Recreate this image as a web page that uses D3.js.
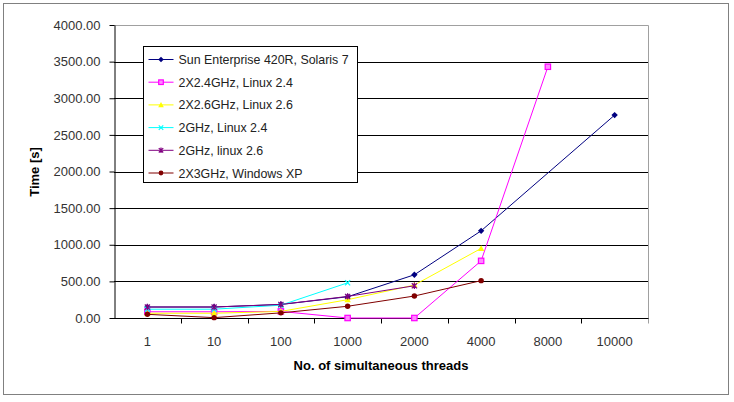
<!DOCTYPE html>
<html>
<head>
<meta charset="utf-8">
<script src="https://cdn.jsdelivr.net/npm/d3@7"></script>
<style>
  body { margin: 0; background: #fff; }
  text { font-family: "Liberation Sans", Arial, sans-serif; }
</style>
</head>
<body>
<svg id="chart" width="734" height="402"></svg>
<script>
// categories on the x axis
const threads = ["1", "10", "100", "1000", "2000", "4000", "8000", "10000"];
const yTicks = [0, 500, 1000, 1500, 2000, 2500, 3000, 3500, 4000];

// series values (null = no measurement)
const sunSolaris  = [150, 150, 185, 290, 590, 1190, null, 2770];
const ghz24Linux24 = [85, 85, 90, 0, 0, 780, 3430, null];
const ghz26Linux26 = [65, 65, 90, 250, 450, 950, null, null];
const ghz2Linux24  = [120, 120, 175, 480, null, null, null, null];
const ghz2Linux26  = [150, 150, 185, 295, 440, null, null, null];
const ghz3WinXP    = [50, 5, 70, 160, 300, 510, null, null];

const series = [
  { name: "Sun Enterprise 420R, Solaris 7", values: sunSolaris, color: "#000080", marker: "diamond" },
  { name: "2X2.4GHz, Linux 2.4", values: ghz24Linux24, color: "#FF00FF", marker: "square" },
  { name: "2X2.6GHz, Linux 2.6", values: ghz26Linux26, color: "#FFFF00", marker: "triangle" },
  { name: "2GHz, Linux 2.4", values: ghz2Linux24, color: "#00FFFF", marker: "x" },
  { name: "2GHz, linux 2.6", values: ghz2Linux26, color: "#800080", marker: "star" },
  { name: "2X3GHz, Windows XP", values: ghz3WinXP, color: "#800000", marker: "circle" }
];

const svg = d3.select("#chart");
const plot = { left: 114, right: 648, top: 25, bottom: 318 };

// outer frame
svg.append("rect")
  .attr("x", 3.5).attr("y", 3.5).attr("width", 725).attr("height", 391)
  .attr("fill", "#fff").attr("stroke", "#808080").attr("stroke-width", 1);

const x = d3.scaleBand().domain(threads).range([plot.left, plot.right]);
const y = d3.scaleLinear().domain([0, 4000]).range([plot.bottom, plot.top]);

// plot area border (gray, top and right)
svg.append("path")
  .attr("d", `M${plot.left},${plot.top + 0.5}H${plot.right + 0.5}V${plot.bottom}`)
  .attr("fill", "none").attr("stroke", "#a0a0a0");

// gridlines
svg.append("g").selectAll("line")
  .data(yTicks.filter(d => d > 0 && d < 4000))
  .join("line")
  .attr("x1", plot.left).attr("x2", plot.right)
  .attr("y1", d => Math.round(y(d)) + 0.5).attr("y2", d => Math.round(y(d)) + 0.5)
  .attr("stroke", "#000");

// y axis
const yAxis = svg.append("g")
  .attr("transform", `translate(${plot.left + 0.5},0)`)
  .call(d3.axisLeft(y).tickValues(yTicks).tickFormat(d3.format(".2f")).tickSize(5).tickSizeOuter(0));
yAxis.select(".domain").attr("stroke", "#000");
yAxis.selectAll(".tick line").attr("stroke", "#000");
yAxis.selectAll(".tick text")
  .attr("x", -14).attr("font-size", 13).attr("fill", "#333")
  .style("font-family", "'Liberation Sans', Arial, sans-serif");

// x axis (ticks between categories)
const xAxisG = svg.append("g").attr("transform", `translate(0,${plot.bottom + 0.5})`);
xAxisG.append("line")
  .attr("x1", plot.left).attr("x2", plot.right + 1)
  .attr("stroke", "#000");
xAxisG.selectAll("line.tk")
  .data(threads.slice(1).concat(["end"]))
  .join("line")
  .attr("class", "tk")
  .attr("x1", (d, i) => Math.round(x(threads[0]) + x.bandwidth() * (i + 1)) + 0.5)
  .attr("x2", (d, i) => Math.round(x(threads[0]) + x.bandwidth() * (i + 1)) + 0.5)
  .attr("y1", 0).attr("y2", 5)
  .attr("stroke", (d) => d === "end" ? "#a0a0a0" : "#000");
xAxisG.selectAll("text")
  .data(threads)
  .join("text")
  .attr("x", d => x(d) + x.bandwidth() / 2)
  .attr("y", 27)
  .attr("text-anchor", "middle")
  .attr("font-size", 13).attr("fill", "#333")
  .text(d => d);

// axis titles
svg.append("text")
  .attr("x", (plot.left + plot.right) / 2).attr("y", 370)
  .attr("text-anchor", "middle")
  .attr("font-size", 13).attr("font-weight", "bold").attr("fill", "#000")
  .text("No. of simultaneous threads");
svg.append("text")
  .attr("transform", "translate(39,172) rotate(-90)")
  .attr("text-anchor", "middle")
  .attr("font-size", 13).attr("font-weight", "bold").attr("fill", "#000")
  .text("Time [s]");

// markers
function drawMarker(g, type, color, size) {
  const s = size;
  if (type === "diamond") {
    g.append("path").attr("d", `M0,${-s}L${s},0L0,${s}L${-s},0Z`).attr("fill", color);
  } else if (type === "square") {
    g.append("rect").attr("x", -s + 0.5).attr("y", -s + 0.5).attr("width", 2 * s - 1).attr("height", 2 * s - 1)
      .attr("fill", "#ff88ff").attr("stroke", color).attr("stroke-width", 1.2);
  } else if (type === "triangle") {
    g.append("path").attr("d", `M0,${-s}L${s},${s * 0.8}L${-s},${s * 0.8}Z`).attr("fill", color);
  } else if (type === "x") {
    g.append("path").attr("d", `M${-s * 0.8},${-s * 0.8}L${s * 0.8},${s * 0.8}M${-s * 0.8},${s * 0.8}L${s * 0.8},${-s * 0.8}`)
      .attr("stroke", color).attr("stroke-width", 1.2);
  } else if (type === "star") {
    g.append("path").attr("d", `M${-s * 0.8},${-s * 0.8}L${s * 0.8},${s * 0.8}M${-s * 0.8},${s * 0.8}L${s * 0.8},${-s * 0.8}M0,${-s}V${s}`)
      .attr("stroke", color).attr("stroke-width", 1.2);
  } else if (type === "circle") {
    g.append("circle").attr("r", s * 0.85).attr("fill", color);
  }
}

const line = d3.line()
  .defined(d => d.v !== null)
  .x(d => x(d.c) + x.bandwidth() / 2)
  .y(d => y(d.v));

const seriesG = svg.append("g");
series.forEach(s => {
  const pts = threads.map((c, i) => ({ c, v: s.values[i] })).filter(d => d.v !== null);
  seriesG.append("path")
    .datum(pts)
    .attr("d", line)
    .attr("fill", "none")
    .attr("stroke", s.color)
    .attr("stroke-width", 1);
  pts.forEach(p => {
    const g = seriesG.append("g")
      .attr("transform", `translate(${x(p.c) + x.bandwidth() / 2},${y(p.v)})`);
    drawMarker(g, s.marker, s.color, 3.2);
  });
});

// legend
const legend = svg.append("g").attr("transform", "translate(143.5,46.5)");
legend.append("rect")
  .attr("width", 214).attr("height", 136)
  .attr("fill", "#fff").attr("stroke", "#000");
series.forEach((s, i) => {
  const ly = 13 + i * 22.7;
  const row = legend.append("g").attr("transform", `translate(0,${ly})`);
  row.append("line").attr("x1", 5).attr("x2", 30).attr("stroke", s.color);
  drawMarker(row.append("g").attr("transform", "translate(17.5,0)"), s.marker, s.color, 2.8);
  row.append("text")
    .attr("x", 35).attr("y", 4.5)
    .attr("font-size", 12.4).attr("fill", "#222")
    .text(s.name);
});
</script>
</body>
</html>
